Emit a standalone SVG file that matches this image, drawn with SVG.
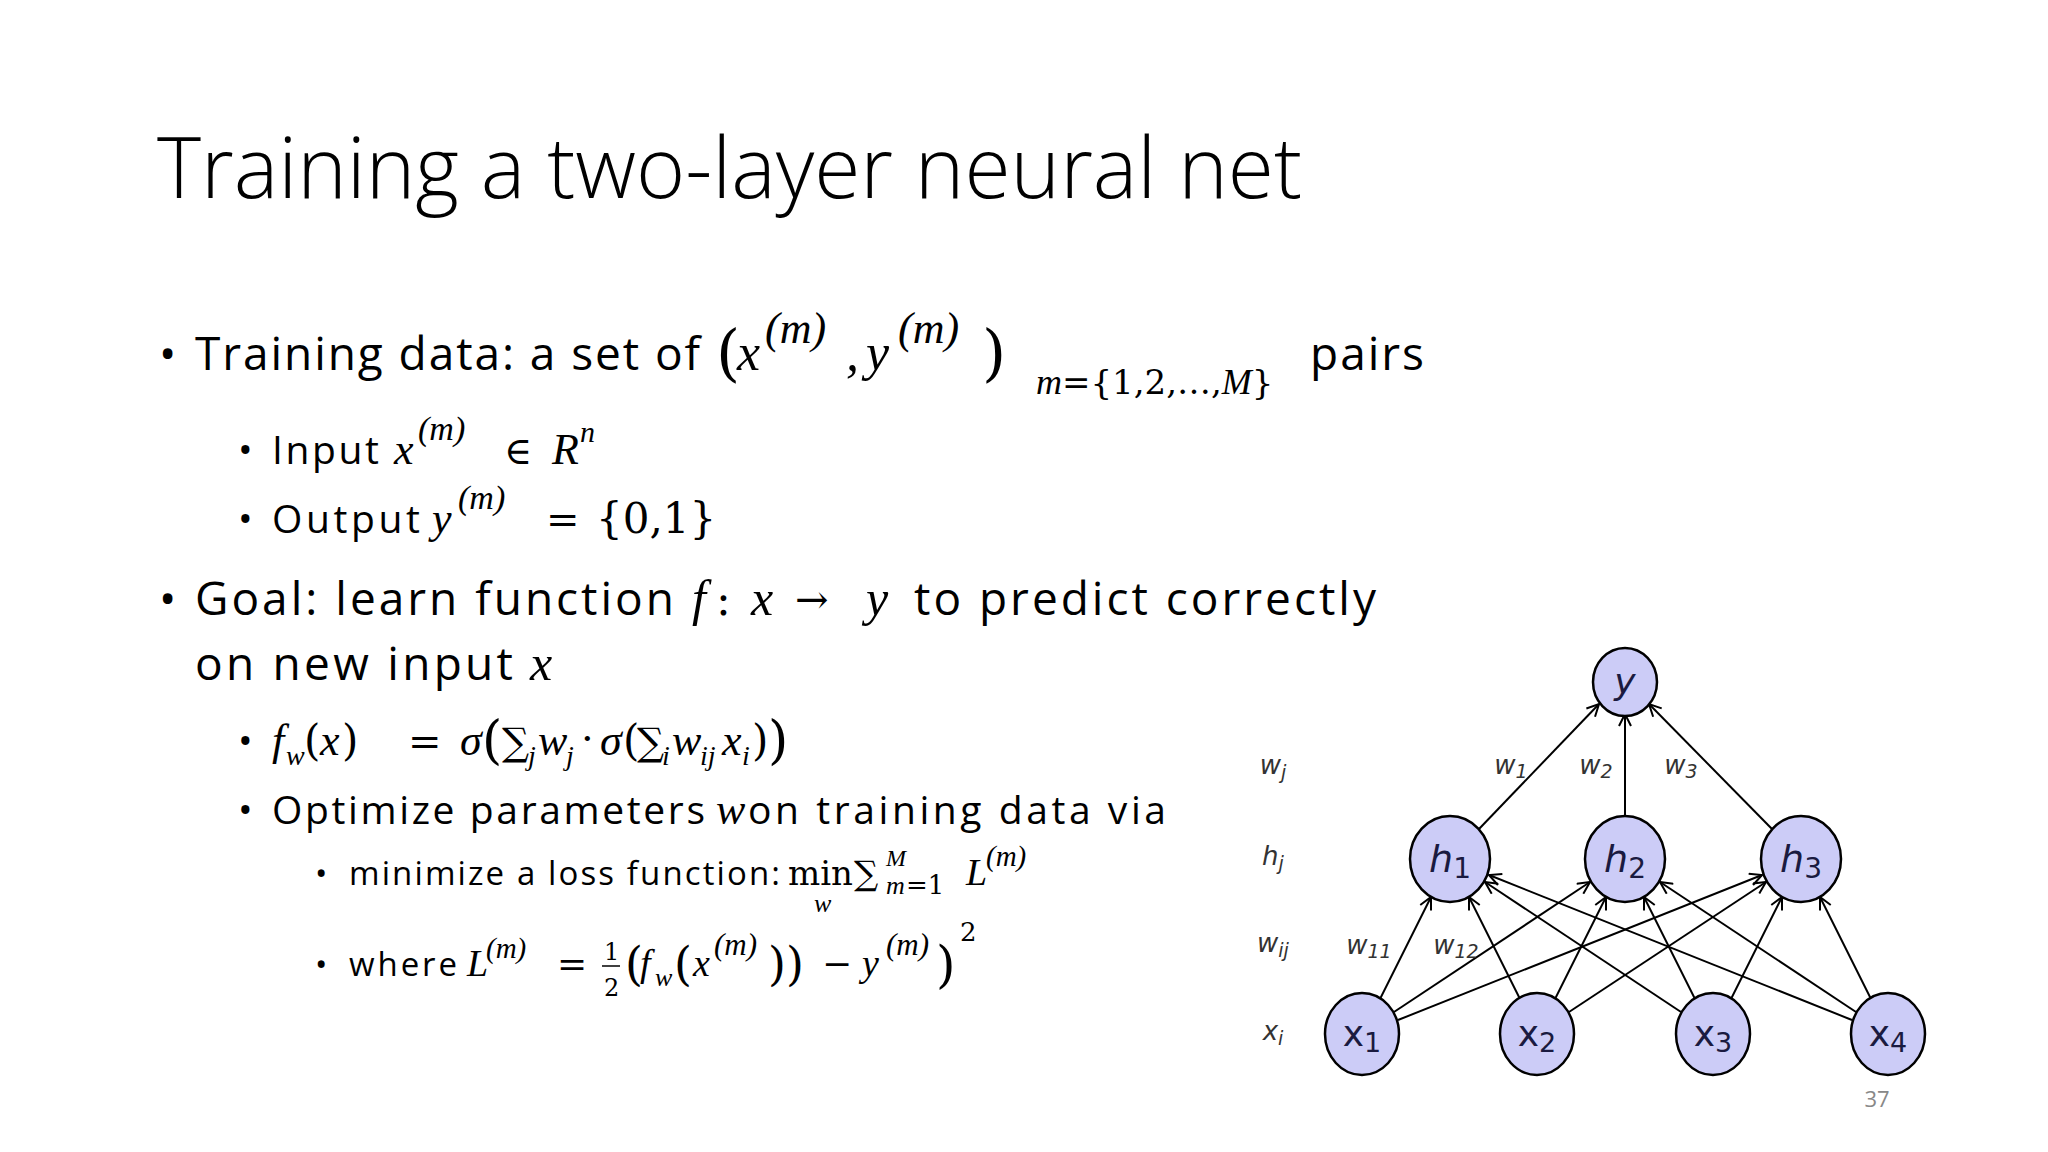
<svg xmlns="http://www.w3.org/2000/svg" width="2048" height="1152" viewBox="0 0 2048 1152">
<style>
.t{font-family:"Open Sans","Liberation Sans",sans-serif;fill:#000}
.m{font-family:"Liberation Serif","DejaVu Serif",serif;font-style:italic;fill:#000}
.s{font-family:"DejaVu Serif","Liberation Serif",serif;fill:#000}
.n{fill:#ccccf7;stroke:#000;stroke-width:2.5}
.nl{font-family:"DejaVu Sans","Liberation Sans",sans-serif;fill:#1a1a40;text-anchor:middle}
.lbl{font-family:"DejaVu Sans","Liberation Sans",sans-serif;font-style:italic;fill:#333;text-anchor:middle;font-size:26px}
.e{stroke:#000;stroke-width:2;fill:none;marker-end:url(#a)}
</style>
<defs><marker id="a" viewBox="0 0 14 14" refX="13" refY="7" markerWidth="14" markerHeight="14" markerUnits="userSpaceOnUse" orient="auto"><path d="M1,1 L13,7 L1,13" fill="none" stroke="#000" stroke-width="2"/></marker></defs>
<rect width="2048" height="1152" fill="#fff"/>
<text class="t" x="157" y="198" font-size="84" textLength="1145" style="font-weight:300">Training a two-layer neural net</text>

<g font-size="46">
<text class="t" x="159" y="370">•</text><text class="t" x="195" y="370" textLength="505">Training data: a set of</text>
<text class="s" x="716" y="374" font-size="62">(</text>
<text class="m" x="737" y="370" font-size="52">x</text><text class="m" x="765" y="343" font-size="44">(m)</text>
<text class="m" x="846" y="370" font-size="52">,</text><text class="m" x="866" y="370" font-size="52">y</text><text class="m" x="898" y="343" font-size="44">(m)</text>
<text class="s" x="982" y="374" font-size="62">)</text>
<text x="1036" y="394" font-size="34" class="s"><tspan class="m" font-size="36">m</tspan>={1,2,…,<tspan class="m" font-size="36">M</tspan>}</text>
<text class="t" x="1310" y="370" textLength="114">pairs</text>

<text class="t" x="159" y="615">•</text><text class="t" x="195" y="615" textLength="479">Goal: learn function</text>
<text class="m" x="692" y="615" font-size="50">f</text><text class="s" x="716" y="615" font-size="44">:</text><text class="m" x="751" y="615" font-size="50">x</text>
<text class="s" x="795" y="613" font-size="40">→</text><text class="m" x="866" y="615" font-size="50">y</text>
<text class="t" x="914" y="615" textLength="462">to predict correctly</text>
<text class="t" x="195" y="680" textLength="318">on new input</text><text class="m" x="530" y="680" font-size="50">x</text>
</g>

<g font-size="39">
<text class="t" x="238" y="464">•</text><text class="t" x="272" y="464" textLength="107">Input</text>
<text class="m" x="394" y="464" font-size="44">x</text><text class="m" x="418" y="440" font-size="34">(m)</text>
<text class="s" x="504" y="464" font-size="38">∈</text><text class="m" x="552" y="464" font-size="44">R</text><text class="m" x="580" y="442" font-size="30">n</text>
<text class="t" x="238" y="533">•</text><text class="t" x="272" y="533" textLength="148">Output</text>
<text class="m" x="432" y="533" font-size="44">y</text><text class="m" x="458" y="509" font-size="34">(m)</text>
<text class="s" x="546" y="533" font-size="40">=</text><text class="s" x="596" y="533" font-size="42">{0,1}</text>

<text class="t" x="238" y="755">•</text>
<text class="m" x="272" y="755" font-size="44">f</text><text class="m" x="286" y="765" font-size="28">w</text>
<text class="s" x="304" y="755" font-size="42">(</text><text class="m" x="320" y="755" font-size="44">x</text><text class="s" x="342" y="755" font-size="42">)</text>
<text class="s" x="408" y="755" font-size="40">=</text>
<text class="m" x="460" y="755" font-size="44">σ</text><text class="s" x="482" y="758" font-size="52">(</text>
<text class="s" x="502" y="755" font-size="38">∑</text><text class="m" x="528" y="765" font-size="28">j</text>
<text class="m" x="538" y="755" font-size="44">w</text><text class="m" x="566" y="765" font-size="28">j</text>
<text class="s" x="581" y="752" font-size="40">·</text>
<text class="m" x="600" y="755" font-size="44">σ</text><text class="s" x="623" y="755" font-size="42">(</text>
<text class="s" x="637" y="755" font-size="38">∑</text><text class="m" x="662" y="765" font-size="28">i</text>
<text class="m" x="672" y="755" font-size="44">w</text><text class="m" x="700" y="765" font-size="28">ij</text>
<text class="m" x="722" y="755" font-size="44">x</text><text class="m" x="742" y="765" font-size="28">i</text>
<text class="s" x="752" y="755" font-size="42">)</text><text class="s" x="768" y="758" font-size="52">)</text>

<text class="t" x="238" y="824">•</text><text class="t" x="272" y="824" textLength="433">Optimize parameters</text>
<text class="m" x="716" y="824" font-size="44">w</text><text class="t" x="748" y="824" textLength="418">on training data via</text>
</g>

<g font-size="33">
<text class="t" x="315" y="885">•</text><text class="t" x="349" y="885" textLength="431">minimize a loss function:</text>
<text class="s" x="788" y="885" font-size="34">min</text><text class="m" x="814" y="912" font-size="26">w</text>
<text class="s" x="854" y="885" font-size="34">∑</text><text class="m" x="886" y="866" font-size="24">M</text>
<text class="m" x="886" y="894" font-size="26">m</text><text class="s" x="906" y="894" font-size="26">=1</text>
<text class="m" x="966" y="885" font-size="38">L</text><text class="m" x="986" y="866" font-size="29">(m)</text>

<text class="t" x="315" y="976">•</text><text class="t" x="349" y="976" textLength="108">where</text>
<text class="m" x="467" y="976" font-size="38">L</text><text class="m" x="486" y="958" font-size="29">(m)</text>
<text class="s" x="557" y="976" font-size="36">=</text>
<text class="s" x="604" y="960" font-size="24">1</text><line x1="602" y1="966" x2="620" y2="966" stroke="#000" stroke-width="1.5"/><text class="s" x="604" y="996" font-size="24">2</text>
<text class="s" x="625" y="980" font-size="46">(</text>
<text class="m" x="640" y="976" font-size="38">f</text><text class="m" x="655" y="986" font-size="26">w</text>
<text class="s" x="674" y="980" font-size="46">(</text>
<text class="m" x="693" y="976" font-size="38">x</text><text class="m" x="714" y="955" font-size="31">(m)</text>
<text class="s" x="768" y="980" font-size="46">)</text><text class="s" x="786" y="980" font-size="46">)</text>
<text class="s" x="822" y="976" font-size="36">−</text>
<text class="m" x="862" y="976" font-size="38">y</text><text class="m" x="886" y="955" font-size="31">(m)</text>
<text class="s" x="936" y="982" font-size="50">)</text><text class="s" x="960" y="941" font-size="26">2</text>
</g>

<g id="connectors">
<line class="e" x1="1479" y1="829" x2="1599" y2="704"/>
<line class="e" x1="1625" y1="817" x2="1625" y2="714"/>
<line class="e" x1="1772" y1="829" x2="1649" y2="704"/>
<line class="e" x1="1380" y1="999" x2="1431" y2="897"/>
<line class="e" x1="1394" y1="1012" x2="1590" y2="882"/>
<line class="e" x1="1398" y1="1020" x2="1762" y2="875"/>
<line class="e" x1="1520" y1="999" x2="1469" y2="897"/>
<line class="e" x1="1555" y1="999" x2="1606" y2="897"/>
<line class="e" x1="1569" y1="1012" x2="1766" y2="882"/>
<line class="e" x1="1681" y1="1012" x2="1485" y2="882"/>
<line class="e" x1="1695" y1="999" x2="1644" y2="897"/>
<line class="e" x1="1731" y1="999" x2="1782" y2="897"/>
<line class="e" x1="1852" y1="1020" x2="1489" y2="875"/>
<line class="e" x1="1856" y1="1012" x2="1660" y2="882"/>
<line class="e" x1="1871" y1="999" x2="1820" y2="897"/>
</g>

<g id="y"><ellipse class="n" cx="1625" cy="682" rx="32" ry="34"/><text class="nl" x="1625" y="694" font-size="36" font-style="italic">y</text></g>
<g id="h1"><ellipse class="n" cx="1450" cy="859" rx="40" ry="43"/><text class="nl" x="1450" y="872" font-size="38"><tspan font-style="italic">h</tspan><tspan font-size="28" dy="6">1</tspan></text></g>
<g id="h2"><ellipse class="n" cx="1625" cy="859" rx="40" ry="43"/><text class="nl" x="1625" y="872" font-size="38"><tspan font-style="italic">h</tspan><tspan font-size="28" dy="6">2</tspan></text></g>
<g id="h3"><ellipse class="n" cx="1801" cy="859" rx="40" ry="43"/><text class="nl" x="1801" y="872" font-size="38"><tspan font-style="italic">h</tspan><tspan font-size="28" dy="6">3</tspan></text></g>
<g id="x1"><ellipse class="n" cx="1362" cy="1034" rx="37" ry="41"/><text class="nl" x="1362" y="1046" font-size="36">x<tspan font-size="27" dy="6">1</tspan></text></g>
<g id="x2"><ellipse class="n" cx="1537" cy="1034" rx="37" ry="41"/><text class="nl" x="1537" y="1046" font-size="36">x<tspan font-size="27" dy="6">2</tspan></text></g>
<g id="x3"><ellipse class="n" cx="1713" cy="1034" rx="37" ry="41"/><text class="nl" x="1713" y="1046" font-size="36">x<tspan font-size="27" dy="6">3</tspan></text></g>
<g id="x4"><ellipse class="n" cx="1888" cy="1034" rx="37" ry="41"/><text class="nl" x="1888" y="1046" font-size="36">x<tspan font-size="27" dy="6">4</tspan></text></g>

<g id="labels">
<text class="lbl" x="1273" y="774">w<tspan font-size="19" dy="5">j</tspan></text>
<text class="lbl" x="1273" y="865">h<tspan font-size="19" dy="5">j</tspan></text>
<text class="lbl" x="1273" y="952">w<tspan font-size="19" dy="5">ij</tspan></text>
<text class="lbl" x="1273" y="1040">x<tspan font-size="19" dy="5">i</tspan></text>
<text class="lbl" x="1511" y="774" font-style="normal">w<tspan font-size="19" dy="4">1</tspan></text>
<text class="lbl" x="1596" y="774" font-style="normal">w<tspan font-size="19" dy="4">2</tspan></text>
<text class="lbl" x="1681" y="774" font-style="normal">w<tspan font-size="19" dy="4">3</tspan></text>
<text class="lbl" x="1369" y="954" font-style="normal">w<tspan font-size="19" dy="4">11</tspan></text>
<text class="lbl" x="1456" y="954" font-style="normal">w<tspan font-size="19" dy="4">12</tspan></text>
</g>
<text class="t" x="1877" y="1107" font-size="22" style="fill:#888" text-anchor="middle">37</text>
</svg>
